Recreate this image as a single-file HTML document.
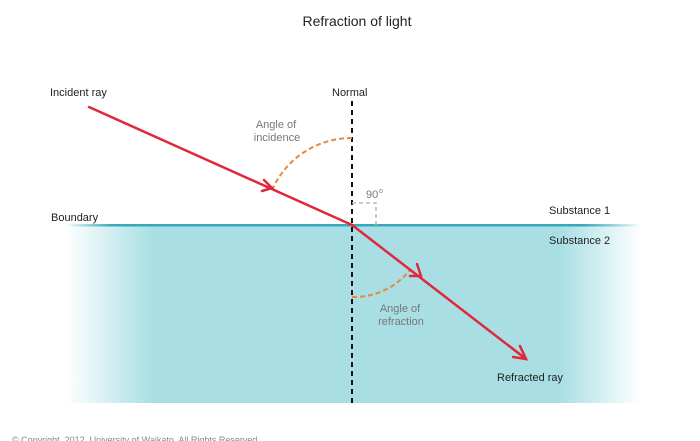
<!DOCTYPE html>
<html><head><meta charset="utf-8"><style>
html,body{margin:0;padding:0;background:#fff;}
svg{display:block;font-family:"Liberation Sans",sans-serif;}
</style></head><body>
<svg width="700" height="441" viewBox="0 0 700 441">
<defs>
<linearGradient id="w" x1="0" x2="1" y1="0" y2="0">
<stop offset="0" stop-color="#a9dfe4" stop-opacity="0"/>
<stop offset="0.15" stop-color="#a9dfe4" stop-opacity="1"/>
<stop offset="0.86" stop-color="#a9dfe4" stop-opacity="1"/>
<stop offset="1" stop-color="#a9dfe4" stop-opacity="0"/>
</linearGradient>
<linearGradient id="b" x1="0" x2="1" y1="0" y2="0">
<stop offset="0" stop-color="#38a9b8" stop-opacity="0"/>
<stop offset="0.08" stop-color="#38a9b8" stop-opacity="1"/>
<stop offset="0.9" stop-color="#38a9b8" stop-opacity="1"/>
<stop offset="1" stop-color="#38a9b8" stop-opacity="0"/>
</linearGradient>
</defs>
<text x="357" y="26" font-size="14" text-anchor="middle" fill="#222">Refraction of light</text>
<rect x="66" y="225" width="575" height="178" fill="url(#w)"/>
<rect x="66" y="224" width="575" height="2.5" fill="url(#b)"/>
<line x1="352" y1="101" x2="352" y2="403" stroke="#111" stroke-width="2" stroke-dasharray="5,4"/>
<path d="M352 203 H376 V225" fill="none" stroke="#bbb" stroke-width="1.5" stroke-dasharray="4,3"/>
<text x="366" y="198" font-size="11" fill="#777">90</text><text x="379" y="193" font-size="7" fill="#777">o</text>
<path d="M352 138 A87 87 0 0 0 272 190" fill="none" stroke="#e8883a" stroke-width="2" stroke-dasharray="5,3"/>
<path d="M352 297 A72 72 0 0 0 410 270" fill="none" stroke="#e8883a" stroke-width="2" stroke-dasharray="5,3"/>
<g stroke="#e0283c" stroke-width="2.5" fill="none" stroke-linecap="round">
<line x1="89" y1="107" x2="352" y2="225"/>
<line x1="352" y1="225" x2="526" y2="359"/>
<path d="M264 180 L272 188 L262 191"/>
<path d="M417 264 L421 276 L410 276"/>
<path d="M520 346 L526 359 L513 357"/>
</g>
<g font-size="11" fill="#222">
<text x="50" y="96">Incident ray</text>
<text x="332" y="96">Normal</text>
<text x="51" y="221">Boundary</text>
<text x="549" y="214">Substance 1</text>
<text x="549" y="244">Substance 2</text>
<text x="497" y="381">Refracted ray</text>
</g>
<g font-size="11" fill="#777" text-anchor="middle">
<text x="276" y="128">Angle of</text>
<text x="277" y="141">incidence</text>
<text x="400" y="312">Angle of</text>
<text x="401" y="325">refraction</text>
</g>
<text x="12" y="443" font-size="9" fill="#888">© Copyright. 2012. University of Waikato. All Rights Reserved.</text>
</svg>
</body></html>
